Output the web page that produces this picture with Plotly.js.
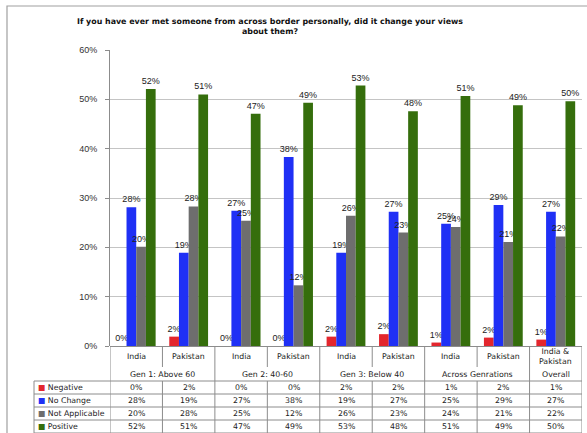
<!DOCTYPE html>
<html>
<head>
<meta charset="utf-8">
<script src="https://cdn.plot.ly/plotly-3.0.1.min.js"></script>
<style>html,body{margin:0;padding:0;background:#fff;}#chart{width:587px;height:433px;}</style>
</head>
<body>
<div id="chart"></div>
<script>
// ---- data ----
const categories = ["India", "Pakistan", "India", "Pakistan", "India", "Pakistan", "India", "Pakistan", "India &<br>Pakistan"];
const groups = ["Gen 1: Above 60", "Gen 2: 40-60", "Gen 3: Below 40", "Across Genrations", "Overall"];
const groupCenters = [0.5, 2.5, 4.5, 6.5, 8];
const seriesNames = ["Negative", "No Change", "Not Applicable", "Positive"];
const negative      = [0.0, 1.9, 0.0, 0.0, 1.9, 2.4, 0.7, 1.7, 1.3];
const noChange      = [28.1, 18.9, 27.4, 38.3, 18.9, 27.2, 24.8, 28.6, 27.2];
const notApplicable = [20.1, 28.3, 25.4, 12.3, 26.4, 23.0, 24.1, 21.1, 22.2];
const positive      = [52.1, 51.0, 47.1, 49.3, 52.8, 47.6, 50.7, 48.8, 49.6];
const yTickVals = [0, 10, 20, 30, 40, 50, 60];

const colors = ["#e3262d", "#1f30f5", "#6e6e6e", "#356e0c"];
const allSeries = [negative, noChange, notApplicable, positive];

// plot area geometry in pixels (for converting layout positions to paper fractions)
const W = 587, H = 433, L = 110, R = 5, T = 50, B = 87;
const plotH = H - T - B, plotW = W - L - R;
const py = p => (H - B - p) / plotH;      // pixel y -> paper y
const px = p => (p - L) / plotW;          // pixel x -> paper x

const xs = categories.map((_, i) => i);
const pct = v => Math.round(v) + "%";

const arial = "Liberation Sans, Arial, sans-serif";
const dejavu = "DejaVu Sans, Verdana, sans-serif";

const traces = allSeries.map((vals, k) => ({
  type: "bar",
  name: seriesNames[k],
  x: xs,
  y: vals,
  marker: {color: colors[k], line: {width: 0}},
  text: vals.map(pct),
  textposition: "outside",
  constraintext: "none",
  cliponaxis: false,
  textfont: {family: arial, size: 9, color: "#222"},
  hoverinfo: "skip"
}));

const shapes = [];
const annotations = [];
const lineCol = "#8c8c8c";
const font = {family: dejavu, size: 7.8, color: "#222"};

// outer frame
shapes.push({type: "rect", xref: "paper", yref: "paper", x0: px(7), x1: px(640), y0: py(6), y1: py(480),
  line: {color: "#a0a0a0", width: 1.2}, layer: "below"});

// category dividers
for (let i = 0; i <= categories.length; i++) {
  const xv = i - 0.5;
  const isGroupEdge = (i === 0 || i === 2 || i === 4 || i === 6 || i === 8 || i === 9);
  if (isGroupEdge) {
    shapes.push({type: "line", xref: "x", yref: "paper", x0: xv, x1: xv, y0: py(346), y1: py(433),
      line: {color: lineCol, width: 1}});
  } else {
    shapes.push({type: "line", xref: "x", yref: "paper", x0: xv, x1: xv, y0: py(346), y1: py(367),
      line: {color: lineCol, width: 1}});
    shapes.push({type: "line", xref: "x", yref: "paper", x0: xv, x1: xv, y0: py(381), y1: py(433),
      line: {color: lineCol, width: 1}});
  }
}
// table horizontal lines
[381, 394, 407, 420, 433].forEach(yy => {
  shapes.push({type: "line", xref: "paper", yref: "paper", x0: px(34), x1: px(582), y0: py(yy), y1: py(yy),
    line: {color: lineCol, width: 1}});
});
// table left edge
shapes.push({type: "line", xref: "paper", yref: "paper", x0: px(34), x1: px(34), y0: py(381), y1: py(433),
  line: {color: lineCol, width: 1}});

// category labels
categories.forEach((c, i) => {
  annotations.push({x: i, y: py(356), xref: "x", yref: "paper", text: c, showarrow: false,
    xanchor: "center", yanchor: "middle", font: font});
});
// group labels
groups.forEach((g, j) => {
  annotations.push({x: groupCenters[j], y: py(374), xref: "x", yref: "paper", text: g, showarrow: false,
    xanchor: "center", yanchor: "middle", font: font});
});
// table rows
const rowY = [387.5, 400.5, 413.5, 426.5];
allSeries.forEach((vals, k) => {
  annotations.push({x: px(36), y: py(rowY[k]), xref: "paper", yref: "paper",
    text: "<span style='color:" + colors[k] + "'>■</span> " + seriesNames[k], showarrow: false,
    xanchor: "left", yanchor: "middle", font: font});
  vals.forEach((v, i) => {
    annotations.push({x: i, y: py(rowY[k]), xref: "x", yref: "paper", text: pct(v), showarrow: false,
      xanchor: "center", yanchor: "middle", font: font});
  });
});

const layout = {
  width: W, height: H,
  margin: {l: L, r: R, t: T, b: B, pad: 0},
  paper_bgcolor: "#fff", plot_bgcolor: "#fff",
  showlegend: false,
  barmode: "group",
  bargap: 0.26,
  bargroupgap: 0,
  title: {
    text: "<b>If you have ever met someone from across border personally, did it change your views<br>about them?</b>",
    font: {family: dejavu, size: 7.9, color: "#111"},
    x: 270 / W, xref: "container", xanchor: "center", y: 1 - 24 / H, yanchor: "middle"
  },
  xaxis: {
    range: [-0.5, categories.length - 0.5],
    showticklabels: false, showgrid: false, zeroline: false,
    showline: false, ticks: "", fixedrange: true
  },
  yaxis: {
    range: [0, 60],
    tickvals: yTickVals,
    ticktext: yTickVals.map(v => v + "%"),
    ticks: "outside", ticklen: 4, tickcolor: lineCol,
    showline: true, linecolor: lineCol, linewidth: 1,
    showgrid: true, gridcolor: "#c4c4c4", gridwidth: 1,
    zeroline: true, zerolinecolor: lineCol,
    tickfont: {family: arial, size: 9, color: "#333"},
    ticklabelstandoff: 6,
    fixedrange: true
  },
  shapes: shapes,
  annotations: annotations
};

Plotly.newPlot("chart", traces, layout, {displayModeBar: false, staticPlot: true});
</script>
</body>
</html>
